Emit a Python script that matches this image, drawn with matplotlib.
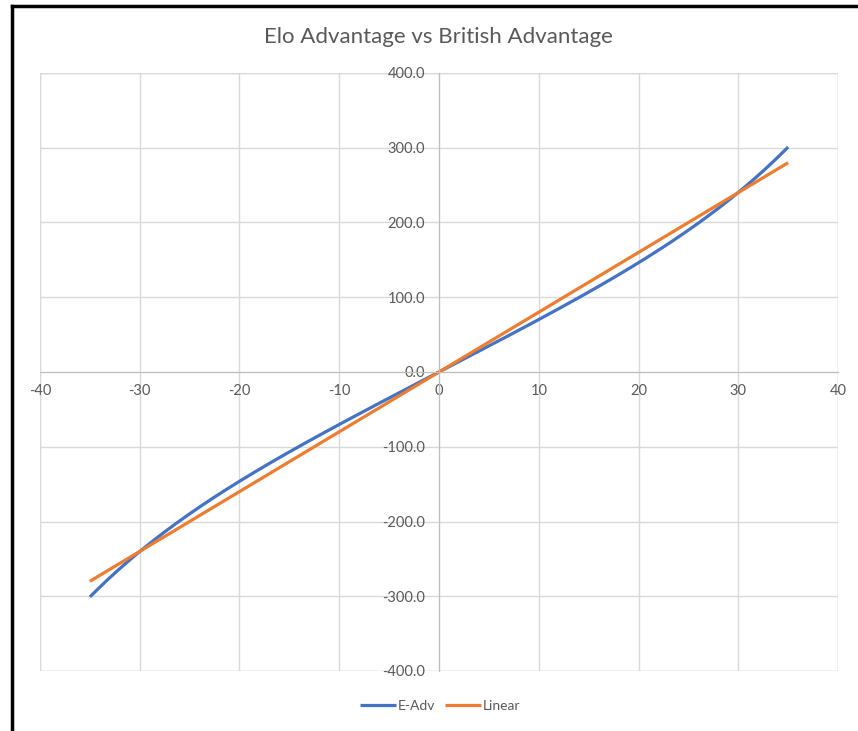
import numpy as np
import matplotlib
matplotlib.use("Agg")
import matplotlib.pyplot as plt
from matplotlib.lines import Line2D

# data
british = [-35, -30, -25, -20, -15, -10, -5, 0, 5, 10, 15, 20, 25, 30, 35]
e_adv = [-301, -240, -190, -146, -107, -70, -35, 0, 35, 70, 107, 146, 190, 240, 301]
linear = [-280, -240, -200, -160, -120, -80, -40, 0, 40, 80, 120, 160, 200, 240, 280]

x_ticks = [-40, -30, -20, -10, 0, 10, 20, 30, 40]
y_ticks = [-400, -300, -200, -100, 0, 100, 200, 300, 400]

plt.rcParams['font.family'] = ['Lato', 'DejaVu Sans']
plt.rcParams['axes.unicode_minus'] = False
txt = '#595959'
grid = '#d9d9d9'

fig = plt.figure(figsize=(8.58, 7.31), dpi=100)
ax = fig.add_axes([40/858, 1-671/731, 798/858, 598/731])

# smooth the curve like Excel's smoothed scatter
xs = np.linspace(-35, 35, 300)
coef = np.polyfit(british, e_adv, 5)
e_smooth = np.polyval(coef, xs)

ax.plot(xs, e_smooth, color='#4472c4', lw=2.3, label='E-Adv', solid_capstyle='butt')
ax.plot(british, linear, color='#ed7d31', lw=2.3, label='Linear', solid_capstyle='butt')

ax.set_xlim(-40, 40)
ax.set_ylim(-400, 400)
ax.set_xticks(x_ticks)
ax.set_yticks(y_ticks)
ax.set_yticklabels([f"{v:.1f}" for v in y_ticks])
ax.grid(True, color=grid, lw=1)
ax.set_axisbelow(True)

for s in ['top', 'right']:
    ax.spines[s].set_visible(False)
ax.spines['left'].set_position(('data', 0))
ax.spines['bottom'].set_position(('data', 0))
ax.spines['left'].set_color('#bfbfbf')
ax.spines['bottom'].set_color('#bfbfbf')
ax.tick_params(length=0, colors=txt, labelsize=10.5)
ax.tick_params(axis='x', pad=9)
ax.tick_params(axis='y', pad=10)

# outer edge of plot area
for v in [-40, 40]:
    ax.axvline(v, color=grid, lw=1, zorder=0)
for v in [-400, 400]:
    ax.axhline(v, color=grid, lw=1, zorder=0)

fig.text(438/858, 1-37/731, 'Elo Advantage vs British Advantage', ha='center', va='center',
         fontsize=16, color=txt)

ax.legend(loc='center', bbox_to_anchor=(440/858, 1-706/731), bbox_transform=fig.transFigure,
          ncol=2, frameon=False, fontsize=10, labelcolor=txt, handlelength=2.6,
          handletextpad=0.1, columnspacing=0.7)

# black frame of the screenshot
fig.add_artist(Line2D([12/858, 12/858], [0, 1-6/731], color='black', lw=2.5, transform=fig.transFigure))
fig.add_artist(Line2D([12/858, 1], [1-6/731, 1-6/731], color='black', lw=2.5, transform=fig.transFigure))

fig.savefig('out.png', dpi=100)
plt.close(fig)
